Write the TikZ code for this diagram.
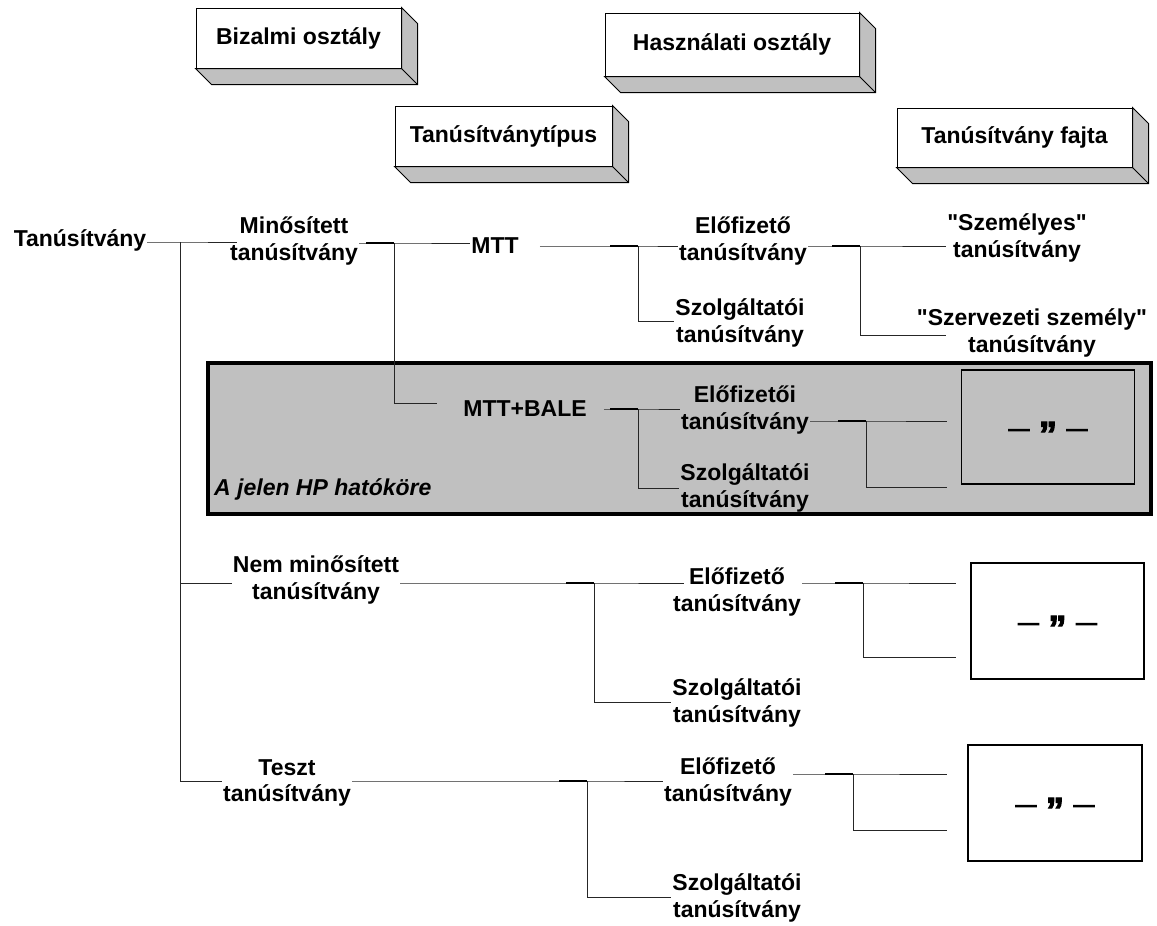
\documentclass[tikz,border=0pt]{standalone}
\usepackage{fontspec}
\setmainfont{Liberation Sans}
\newfontfamily\idemfont{Liberation Sans}[FakeBold=3]
\definecolor{gris}{RGB}{192,192,192}
\tikzset{
	lbl/.style={font=\bfseries\fontsize{23}{26.5}\selectfont, align=center, inner sep=1pt},
	boite/.style={lbl, draw, fill=white, line width=1pt},
	conn/.style={line width=1pt, black!85},
	stub/.style={line width=2.2pt},
	idem/.style={draw, line width=1.3pt, font=\idemfont\bfseries\fontsize{36}{40}\selectfont, minimum width=173pt}
}
\begin{document}
\begin{tikzpicture}[x=1pt, y=-1pt]
	\useasboundingbox (0,0) rectangle (1157,926);
	
	% Boites 3D
	\node[boite, minimum width=205pt, minimum height=60pt] (biz) at (298.5,38) {Bizalmi osztály};
	\node[boite, minimum width=254pt, minimum height=63pt] (hasz) at (732,44.5) {Használati osztály};
	\node[boite, minimum width=217pt, minimum height=60pt] (tip) at (503.5,136) {Tanúsítványtípus};
	\node[boite, minimum width=235pt, minimum height=59pt] (fajta) at (1014.5,137.5) {Tanúsítvány fajta};
	\foreach \b in {biz,hasz,tip,fajta} {
		\filldraw[fill=gris, line width=1pt] (\b.north east) -- ++(16,16) -- ([shift={(16,16)}]\b.south east) -- ([shift={(16,16)}]\b.south west) -- (\b.south west) -- (\b.south east) -- cycle;
		\draw[line width=1pt] (\b.south east) -- ++(16,16);
	}
	
	% Zone grise
	\filldraw[fill=gris, line width=3.5pt] (208,363) rectangle (1151,514);
	\node[lbl, font=\bfseries\itshape\fontsize{23}{26.5}\selectfont, anchor=west] (hatokor) at (213,489) {A jelen HP hatóköre};
	
	% Noeuds
	\node[lbl] (tanu) at (80,240) {Tanúsítvány};
	\node[lbl] (minos) at (294,241) {Minősített\\tanúsítvány};
	\node[lbl] (mtt) at (495,246) {MTT};
	\node[lbl] (elo1) at (743,241) {Előfizető\\tanúsítvány};
	\node[lbl] (szo1) at (740,323) {Szolgáltatói\\tanúsítvány};
	\node[lbl] (szem) at (1017,238) {\textquotedbl Személyes\textquotedbl\\tanúsítvány};
	\node[lbl] (szerv) at (1032,333) {\textquotedbl Szervezeti személy\textquotedbl\\tanúsítvány};
	\node[lbl] (mttb) at (525,409) {MTT+BALE};
	\node[lbl] (elo2) at (745,410) {Előfizetői\\tanúsítvány};
	\node[lbl] (szo2) at (745,488) {Szolgáltatói\\tanúsítvány};
	\node[lbl] (nem) at (316,580) {Nem minősített\\tanúsítvány};
	\node[lbl] (elo3) at (737,592) {Előfizető\\tanúsítvány};
	\node[lbl] (szo3) at (737,703) {Szolgáltatói\\tanúsítvány};
	\node[lbl] (teszt) at (287,783) {Teszt\\tanúsítvány};
	\node[lbl] (elo4) at (728,782) {Előfizető\\tanúsítvány};
	\node[lbl] (szo4) at (737,898) {Szolgáltatói\\tanúsítvány};
	
	% Cases "idem"
	\node[idem, minimum height=114pt] (d1) at (1048,427) {\_ „ \_};
	\node[idem, minimum height=116pt] (d2) at (1057.5,621) {\_ „ \_};
	\node[idem, minimum height=116pt, minimum width=174pt] (d3) at (1055,803) {\_ „ \_};
	
	% Embranchements
	\coordinate (j0) at (180,242);
	\coordinate (n0) at (180,583);
	\coordinate (t0) at (180,781);
	\coordinate (jm) at (394,243);
	\coordinate (km) at (394,403);
	\coordinate (jt) at (638,246);
	\coordinate (kt) at (638,321);
	\coordinate (je) at (860,246);
	\coordinate (ke) at (860,335);
	\coordinate (jb) at (638,409);
	\coordinate (kb) at (638,488);
	\coordinate (jf) at (866,421);
	\coordinate (kf) at (866,487);
	\coordinate (jn) at (594,583);
	\coordinate (kn) at (594,702);
	\coordinate (jg) at (863,583);
	\coordinate (kg) at (863,657);
	\coordinate (jt2) at (587,781);
	\coordinate (kt2) at (587,897);
	\coordinate (jh) at (853,774);
	\coordinate (kh) at (853,830);
	
	% Traits
	\draw[conn, shorten >=-8pt] (tanu.east |- j0) -- (j0) -- (j0 -| minos.west);
	\draw[conn] (j0) -- (t0) -- (t0 -| teszt.west);
	\draw[conn] (n0) -- (n0 -| nem.west);
	
	\draw[conn] (minos.east |- jm) -- (jm) -- (jm -| mtt.west);
	\draw[conn, shorten >=25pt] (jm) -- (km) -- (km -| mttb.west);
	
	\draw[conn, shorten <=20pt] (mtt.east |- jt) -- (jt) -- (jt -| elo1.west);
	\draw[conn] (jt) -- (kt) -- (kt -| szo1.west);
	
	\draw[conn] (elo1.east |- je) -- (je) -- (je -| szem.west);
	\draw[conn, shorten >=-30pt] (je) -- (ke) -- (ke -| szerv.west);
	
	\draw[conn, shorten <=16pt] (mttb.east |- jb) -- (jb) -- (jb -| elo2.west);
	\draw[conn] (jb) -- (kb) -- (kb -| szo2.west);
	
	\draw[conn, shorten >=14pt] (elo2.east |- jf) -- (jf) -- (jf -| d1.west);
	\draw[conn, shorten >=14pt] (jf) -- (kf) -- (kf -| d1.west);
	
	\draw[conn, shorten >=-12pt] (nem.east |- jn) -- (jn) -- (jn -| elo3.west);
	\draw[conn] (jn) -- (kn) -- (kn -| szo3.west);
	
	\draw[conn, shorten >=14pt] (elo3.east |- jg) -- (jg) -- (jg -| d2.west);
	\draw[conn, shorten >=14pt] (jg) -- (kg) -- (kg -| d2.west);
	
	\draw[conn] (teszt.east |- jt2) -- (jt2) -- (jt2 -| elo4.west);
	\draw[conn] (jt2) -- (kt2) -- (kt2 -| szo4.west);
	
	\draw[conn, shorten >=20pt] (elo4.east |- jh) -- (jh) -- (jh -| d3.west);
	\draw[conn, shorten >=20pt] (jh) -- (kh) -- (kh -| d3.west);
	
	\foreach \j in {jm,jt,je,jb,jf,jn,jg,jt2,jh}
		\draw[stub] (\j) -- ++(-28,0);
\end{tikzpicture}
\end{document}
